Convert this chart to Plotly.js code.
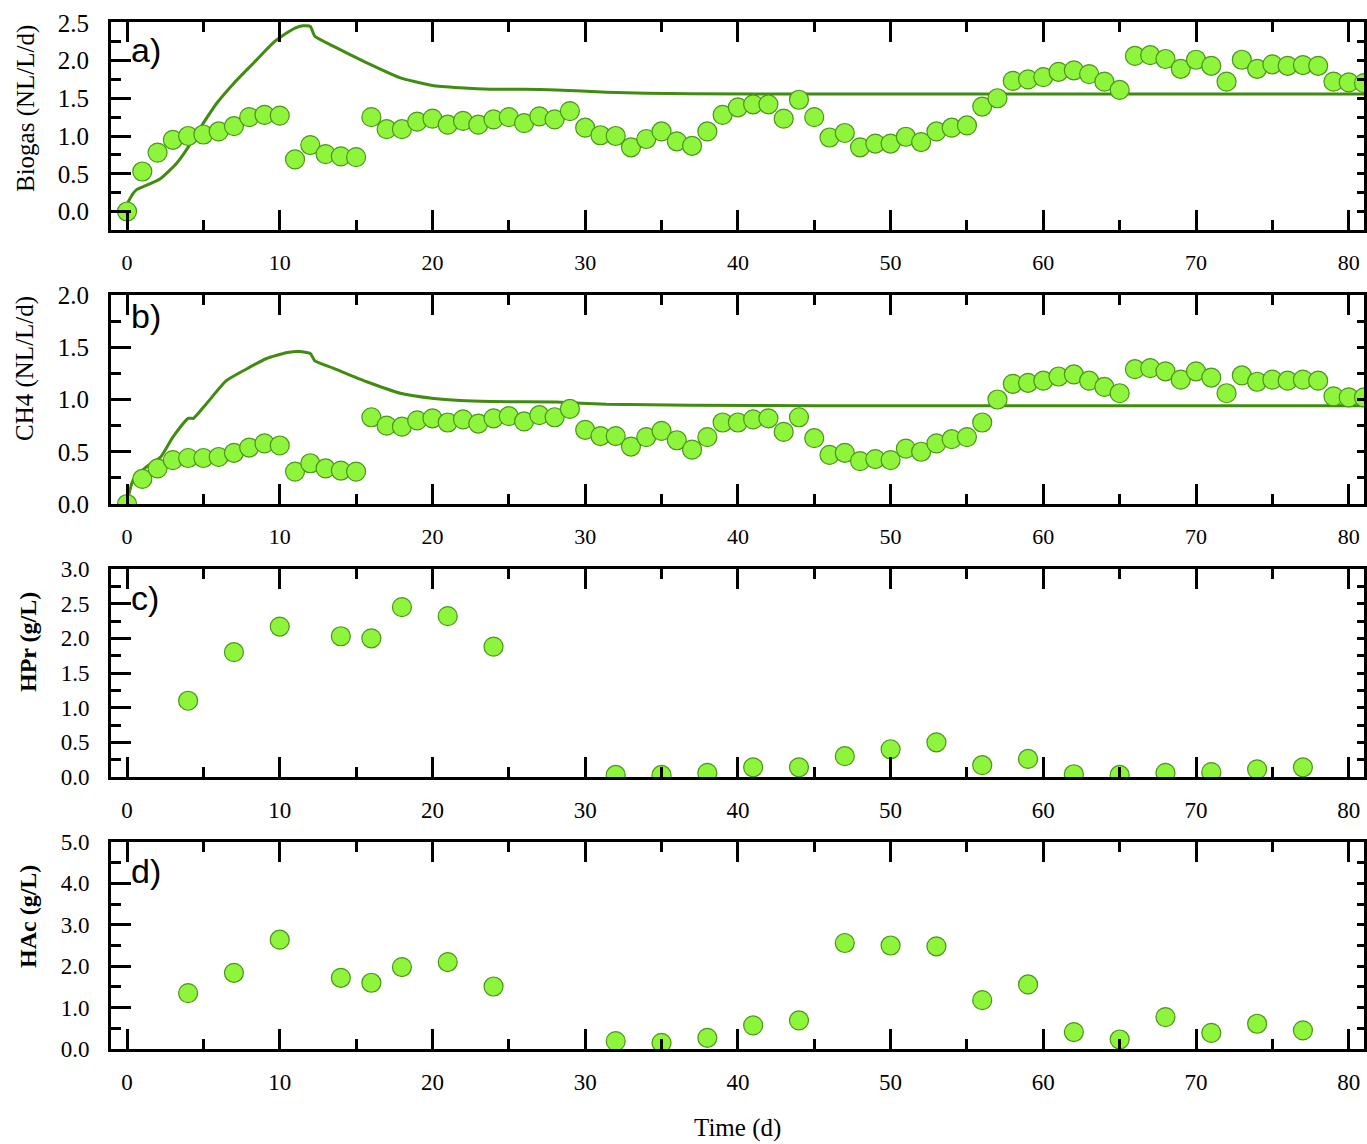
<!DOCTYPE html>
<html>
<head>
<meta charset="utf-8">
<script src="https://cdn.plot.ly/plotly-3.0.1.min.js"></script>
<style>html,body{margin:0;padding:0;background:#fff;}#chart{width:1367px;height:1144px;}</style>
</head>
<body>
<div id="chart"></div>
<script>
// ---- data ----
const days = [0,1,2,3,4,5,6,7,8,9,10,11,12,13,14,15,16,17,18,19,20,21,22,23,24,25,26,27,28,29,30,31,32,33,34,35,36,37,38,39,40,41,42,43,44,45,46,47,48,49,50,51,52,53,54,55,56,57,58,59,60,61,62,63,64,65,66,67,68,69,70,71,72,73,74,75,76,77,78,79,80,81];
const biogas = [0.00,0.53,0.78,0.95,1.00,1.02,1.06,1.13,1.25,1.28,1.27,0.69,0.88,0.76,0.73,0.72,1.25,1.09,1.09,1.19,1.23,1.15,1.20,1.15,1.22,1.25,1.17,1.26,1.22,1.33,1.11,1.01,1.00,0.85,0.96,1.06,0.93,0.87,1.06,1.28,1.38,1.42,1.42,1.23,1.48,1.25,0.98,1.04,0.85,0.90,0.90,0.99,0.92,1.06,1.11,1.14,1.39,1.50,1.73,1.75,1.78,1.85,1.87,1.82,1.72,1.61,2.06,2.07,2.02,1.89,2.01,1.93,1.72,2.01,1.89,1.95,1.93,1.94,1.93,1.72,1.71,1.70];
const ch4 = [0.00,0.24,0.34,0.42,0.44,0.44,0.45,0.49,0.54,0.58,0.56,0.31,0.39,0.34,0.32,0.31,0.83,0.75,0.74,0.80,0.82,0.78,0.81,0.77,0.82,0.84,0.79,0.85,0.83,0.91,0.71,0.65,0.65,0.55,0.64,0.70,0.61,0.52,0.64,0.78,0.78,0.81,0.82,0.69,0.83,0.63,0.47,0.49,0.41,0.43,0.42,0.53,0.50,0.58,0.62,0.64,0.78,1.00,1.15,1.16,1.18,1.22,1.24,1.18,1.12,1.06,1.29,1.30,1.27,1.19,1.27,1.21,1.06,1.23,1.17,1.19,1.18,1.19,1.18,1.03,1.02,1.02];

const biogasModelT = [0.05,0.4,0.63,1.07,2.16,3.25,3.9,4.8,5.9,7.0,8.3,9.6,10.5,11.0,11.5,12.0,12.3,13.5,15.7,17.9,20.0,21.8,23.8,26.0,28.1,31.4,34.0,36.9,45.0,81.0];
const biogasModel  = [0.12,0.24,0.29,0.33,0.43,0.64,0.82,1.11,1.44,1.70,1.97,2.24,2.37,2.43,2.46,2.45,2.32,2.19,1.97,1.77,1.67,1.64,1.62,1.62,1.61,1.58,1.565,1.56,1.555,1.555];
const ch4ModelT = [0.05,0.4,1.3,2.2,3.0,4.0,4.35,5.2,6.5,7.8,9.1,10.5,11.3,12.0,12.3,13.5,15.7,17.9,20.1,21.8,23.8,28.1,31.4,36.9,45.0,81.0];
const ch4Model  = [0.05,0.23,0.36,0.45,0.64,0.82,0.82,0.96,1.18,1.29,1.39,1.45,1.46,1.44,1.37,1.30,1.17,1.06,1.01,0.99,0.98,0.975,0.955,0.945,0.94,0.94];

const vfaDays = [4,7,10,14,16,18,21,24,32,35,38,41,44,47,50,53,56,59,62,65,68,71,74,77];
const hpr = [1.10,1.80,2.17,2.03,2.00,2.45,2.32,1.88,0.03,0.03,0.06,0.14,0.14,0.30,0.40,0.50,0.17,0.26,0.04,0.03,0.06,0.07,0.11,0.14];
const hac = [1.35,1.84,2.64,1.72,1.60,1.98,2.10,1.51,0.19,0.15,0.27,0.57,0.69,2.56,2.50,2.48,1.18,1.56,0.41,0.23,0.77,0.39,0.61,0.45];

const xTickVals = [0,10,20,30,40,50,60,70,80];
const panelLabels = ['a)','b)','c)','d)'];
const yTitles = ['Biogas (NL/L/d)','CH4 (NL/L/d)','<b>HPr (g/L)</b>','<b>HAc (g/L)</b>'];
const xTitle = 'Time (d)';

// ---- style ----
const FILL = '#8ef43c', EDGE = '#4a9616', LINE = '#3f8c10';
const SERIF = 'Liberation Serif, Times New Roman, serif';
const mk = {size:19, color:FILL, line:{color:EDGE, width:1.2}};

const traces = [
  {x:biogasModelT, y:biogasModel, mode:'lines', line:{color:LINE, width:3, shape:'spline', smoothing:0.5}, xaxis:'x', yaxis:'y', hoverinfo:'skip'},
  {x:days, y:biogas, mode:'markers', marker:mk, xaxis:'x', yaxis:'y'},
  {x:ch4ModelT, y:ch4Model, mode:'lines', line:{color:LINE, width:3, shape:'spline', smoothing:0.5}, xaxis:'x2', yaxis:'y2', hoverinfo:'skip'},
  {x:days, y:ch4, mode:'markers', marker:mk, xaxis:'x2', yaxis:'y2'},
  {x:vfaDays, y:hpr, mode:'markers', marker:mk, xaxis:'x3', yaxis:'y3'},
  {x:vfaDays, y:hac, mode:'markers', marker:mk, xaxis:'x4', yaxis:'y4'}
];

const H = 1144;
function dom(top, bottom){ return [1 - bottom/H, 1 - top/H]; }
const domains = [dom(22,230), dom(295,504), dom(569,777), dom(842,1049)];
const yRanges = [[-0.245,2.51],[0,2.0],[0,3.0],[0,5.0]];
const yMajor = [0.5,0.5,0.5,1.0];
const yMinor = [0.25,0.25,0.25,0.5];
const yTickFont = [25,25,23,23];
const xTickFont = [22,22,23,23];
const xStandoff = [11,11,10,10];

const layout = {
  width:1367, height:1144,
  margin:{l:111, r:3, t:0, b:0},
  paper_bgcolor:'#ffffff', plot_bgcolor:'#ffffff',
  showlegend:false,
  annotations:[]
};

for (let i=0;i<4;i++){
  const s = i===0 ? '' : String(i+1);
  layout['xaxis'+s] = {
    anchor:'y'+s, domain:[0,1], range:[-1.05,81.0],
    tickmode:'array', tickvals:xTickVals,
    ticks:'inside', ticklen:20, tickwidth:3, tickcolor:'#000',
    minor:{dtick:5, tick0:0, ticks:'inside', ticklen:10, tickwidth:3, tickcolor:'#000'},
    showline:true, linewidth:3, linecolor:'#000', mirror:'ticks',
    showgrid:false, zeroline:false,
    tickfont:{family:SERIF, size:xTickFont[i], color:'#000'},
    ticklabelstandoff:xStandoff[i]
  };
  layout['yaxis'+s] = {
    anchor:'x'+s, domain:domains[i], range:yRanges[i],
    tickmode:'linear', tick0:0, dtick:yMajor[i], tickformat:'.1f',
    ticks:'inside', ticklen:20, tickwidth:3, tickcolor:'#000',
    minor:{dtick:yMinor[i], tick0:0, ticks:'inside', ticklen:10, tickwidth:3, tickcolor:'#000'},
    showline:true, linewidth:3, linecolor:'#000', mirror:true,
    showgrid:false, zeroline:false,
    tickfont:{family:SERIF, size:yTickFont[i], color:'#000'},
    ticklabelstandoff:14
  };
  layout['yaxis'+(i+5)] = {
    overlaying:'y'+s, side:'right', anchor:'x'+s, range:yRanges[i],
    tickmode:'linear', tick0:0, dtick:yMinor[i],
    ticks:'inside', ticklen:7, tickwidth:3, tickcolor:'#000',
    showticklabels:false, showline:false, showgrid:false, zeroline:false
  };
}

// right-side tick carriers (invisible traces so the overlay axes render)
for (let i=0;i<4;i++){
  const s = i===0 ? '' : String(i+1);
  traces.push({x:[-5], y:[-5], mode:'markers', marker:{opacity:0}, xaxis:'x'+s, yaxis:'y'+(i+5), hoverinfo:'skip', showlegend:false});
}

const labelY = [50, 316, 598, 871];
const titleY = [108, 369, 642, 917];
const titleX = [26, 25, 28, 28];
for (let i=0;i<4;i++){
  layout.annotations.push({
    text:panelLabels[i], xref:'paper', yref:'paper',
    x:(129-111)/1253, y:1-labelY[i]/H, xanchor:'left', yanchor:'middle',
    showarrow:false, font:{family:'Liberation Sans, Arial, sans-serif', size:34, color:'#000'}
  });
  layout.annotations.push({
    text:yTitles[i], xref:'paper', yref:'paper',
    x:(titleX[i]-111)/1253, y:1-titleY[i]/H, xanchor:'center', yanchor:'middle',
    textangle:-90, showarrow:false, font:{family:SERIF, size:i<2?25:24, color:'#000'}
  });
}
layout.annotations.push({
  text:xTitle, xref:'paper', yref:'paper',
  x:(737-111)/1253, y:1-1128/H, xanchor:'center', yanchor:'middle',
  showarrow:false, font:{family:SERIF, size:25, color:'#000'}
});

Plotly.newPlot('chart', traces, layout, {displayModeBar:false, staticPlot:true});
</script>
</body>
</html>
